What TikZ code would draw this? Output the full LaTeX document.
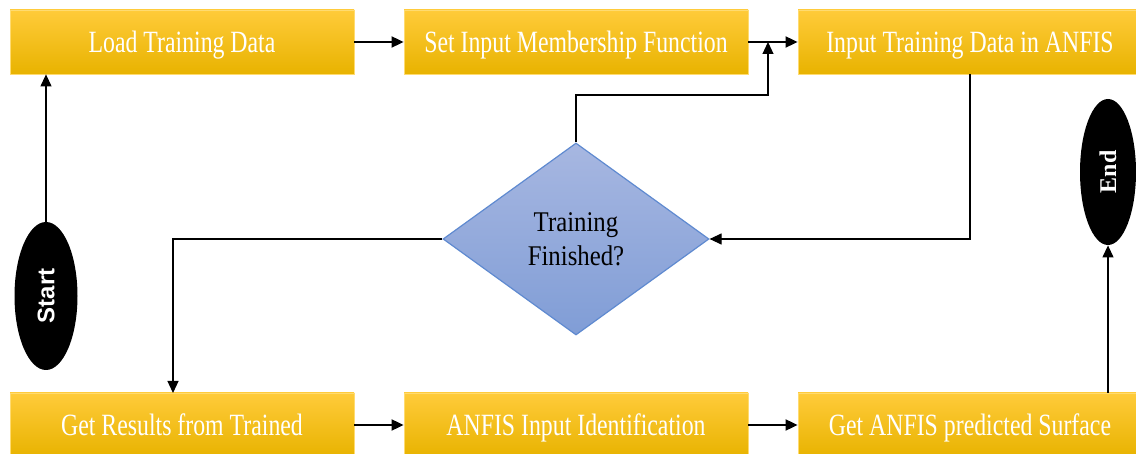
\documentclass[tikz,border=0pt]{standalone}
\usepackage{fontspec}
\setmainfont{Liberation Serif}
\setsansfont{Liberation Sans}
\usetikzlibrary{%
  calc,arrows.meta,shapes.geometric}
\tikzset {>={Triangle[length=6pt,width=5.5pt]}}
\definecolor{goldtop}{HTML}{FFCB3A}
\definecolor{goldmid}{HTML}{FFC305}
\definecolor{goldbot}{HTML}{E8B300}
\definecolor{goldrim}{HTML}{FFDB70}
\definecolor{bluetop}{HTML}{A7B7E1}
\definecolor{bluebot}{HTML}{809DD6}
\definecolor{bluerim}{HTML}{5F8AD0}
\newcommand{\tallbox}[2]{\scalebox{1}[#1]{#2}}
\tikzset{
  stepbox/.style={rectangle,draw=goldrim,line width=.4pt,
    top color=goldtop,middle color=goldmid,bottom color=goldbot,
    minimum width=172pt,minimum height=32pt,inner sep=0pt,
    text height=14pt,text depth=3pt,
    text=white,font=\fontsize{11.9}{14}\selectfont},
  decide/.style={diamond,draw=bluerim,line width=.6pt,
    top color=bluetop,bottom color=bluebot,
    minimum width=133pt,minimum height=96pt,inner sep=0pt,
    align=center,font=\fontsize{12.4}{19}\selectfont},
  terminal/.style={ellipse,fill=black,inner sep=0pt,text=white,
    font=\fontsize{12}{14}\selectfont\bfseries},
  flow/.style={->,line width=.9pt},
  thinflow/.style={->,line width=.6pt}
}

\begin{document}
\begin{tikzpicture}[x=.5pt,y=-.5pt]
\useasboundingbox (0,0) rectangle (1136,454);
% top row
\node[stepbox] (load)  at (182,42) {\tallbox{1.3}{Load Training Data}};
\node[stepbox] (memb)  at (576,42) {\tallbox{1.3}{Set Input Membership Function}};
\node[stepbox] (input) at (970,42) {\tallbox{1.3}{Input Training Data in ANFIS}};
% bottom row
\node[stepbox] (results) at (182,425) {\tallbox{1.3}{Get Results from Trained}};
\node[stepbox] (ident)   at (576,425) {\tallbox{1.3}{ANFIS Input Identification}};
\node[stepbox] (surface) at (970,425) {\tallbox{1.3}{Get ANFIS predicted Surface}};
% decision
\node[decide] (check) at (576,239)
  {\tallbox{1.15}{Training}\\[-2pt]\tallbox{1.15}{Finished?}};
% start and end
\node[terminal,minimum width=31.5pt,minimum height=74pt] (start) at (46,296)
  {\rotatebox{90}{\sffamily Start}};
\node[terminal,minimum width=28pt,minimum height=73pt] (stop) at (1108,172)
  {\rotatebox{90}{End}};
\coordinate (merge) at (768,42);
\coordinate (turn) at (576,95);
\coordinate (drop) at (173,393);

\draw[thinflow] (start.north) -- (start.north |- load.south);
\draw[flow] (load) -- (memb);
\draw[flow] (memb) -- (input);
\draw[thinflow] (check.north) -- (turn) -| (merge);
\draw[thinflow] (input.south) |- (check.east);
\draw[thinflow] (check.west) -| (drop);
\draw[flow] (results) -- (ident);
\draw[flow] (ident) -- (surface);
\draw[thinflow] (surface.north -| stop.south) -- (stop.south);
\end{tikzpicture}
\end{document}
